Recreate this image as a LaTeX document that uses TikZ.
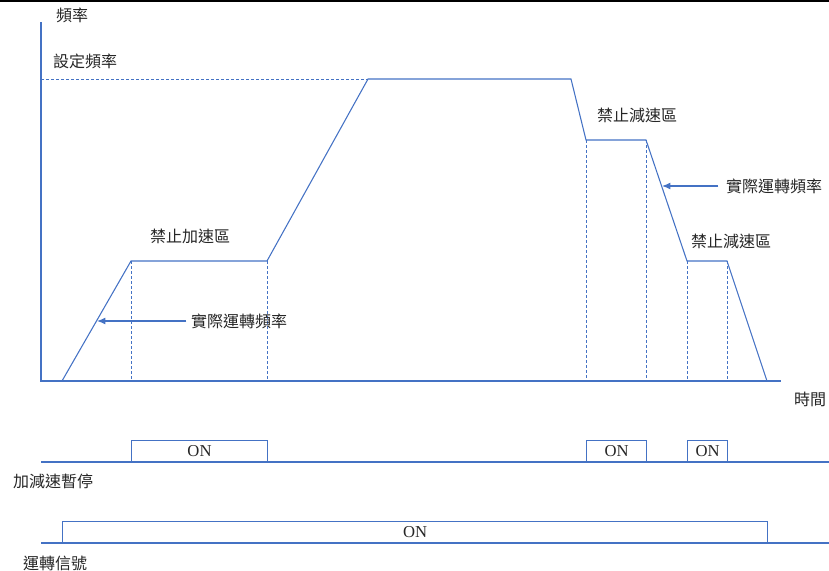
\documentclass[tikz,border=0pt]{standalone}
\usepackage{fontspec}
\setmainfont{Liberation Serif}
\newfontfamily\cjk{Noto Sans CJK TC}
\usetikzlibrary{arrows.meta}
\definecolor{Wave}{HTML}{4472C4}
\definecolor{Ink}{HTML}{262626}
\tikzset{
  wave/.style={draw=Wave,line width=0.8pt},
  guide/.style={draw=Wave,line width=0.75pt,dash pattern=on 2.25pt off 1.5pt},
  pointer/.style={-{Latex[length=2.2mm,width=1.8mm]},draw=Wave,line width=0.8pt},
  label/.style={text=Ink,inner sep=1pt,font=\cjk\fontsize{12}{14}\selectfont},
  onbox/.style={draw=Wave,line width=0.8pt,text=Ink,inner sep=0pt,font=\fontsize{12.5}{14}\selectfont},
}

\begin{document}
\begin{tikzpicture}[x=0.75pt,y=-0.75pt]
    \useasboundingbox (0,0) rectangle (829,571);
    \fill[black] (0,0) rectangle (829,2);

    % axes
    \coordinate (origin) at (41,381);
    \coordinate (ytop) at (41,22);
    \coordinate (xend) at (781,381);
    \draw[wave] (ytop) -- (origin) -- (xend);

    % frequency curve
    \coordinate (p0) at (62,381);
    \coordinate (p1) at (131,261);
    \coordinate (p2) at (267,261);
    \coordinate (p3) at (368,79);
    \coordinate (p4) at (571,79);
    \coordinate (p5) at (586,140);
    \coordinate (p6) at (646,140);
    \coordinate (p7) at (687,261);
    \coordinate (p8) at (727,261);
    \coordinate (p9) at (767,381);
    \draw[wave] (p0) -- (p1) -- (p2) -- (p3) -- (p4) -- (p5) -- (p6) -- (p7) -- (p8) -- (p9);

    \coordinate (setf) at (41,79);
    \draw[guide] (setf) -- (p3);
    \foreach \p in {p1,p2,p5,p6,p7,p8}
      \draw[guide] (\p) -- (\p |- origin);

    \node[label] (freq) at (72,15) {頻率};
    \node[label] (setlabel) at (85,61) {設定頻率};
    \node[label] (noacc) at (190,236) {禁止加速區};
    \node[label] (nodec1) at (637,115) {禁止減速區};
    \node[label] (nodec2) at (731,241) {禁止減速區};
    \node[label] (time) at (810,399) {時間};

    \node[label] (actual1) at (239,321) {實際運轉頻率};
    \node[label] (actual2) at (774,186) {實際運轉頻率};
    \coordinate (hit1) at (97,321);
    \coordinate (hit2) at (662,186);
    \draw[pointer] (actual1.west) ++(-3,0) -- (hit1);
    \draw[pointer] (actual2.west) ++(-6,0) -- (hit2);

    % pause signal
    \coordinate (pausel) at (41,462);
    \coordinate (pauser) at (829,462);
    \draw[wave] (pausel) -- (pauser);
    \node[onbox,minimum width=102pt,minimum height=15.75pt,anchor=south west] (on1) at (131,462) {ON};
    \node[onbox,minimum width=45pt,minimum height=15.75pt,anchor=south west] (on2) at (586,462) {ON};
    \node[onbox,minimum width=30pt,minimum height=15.75pt,anchor=south west] (on3) at (687,462) {ON};
    \node[label] (pause) at (53,481) {加減速暫停};

    % run signal
    \coordinate (runl) at (41,543);
    \coordinate (runr) at (829,543);
    \draw[wave] (runl) -- (runr);
    \node[onbox,minimum width=528.75pt,minimum height=15.75pt,anchor=south west] (on4) at (62,543) {ON};
    \node[label] (run) at (55,563) {運轉信號};
  \end{tikzpicture}
\end{document}
